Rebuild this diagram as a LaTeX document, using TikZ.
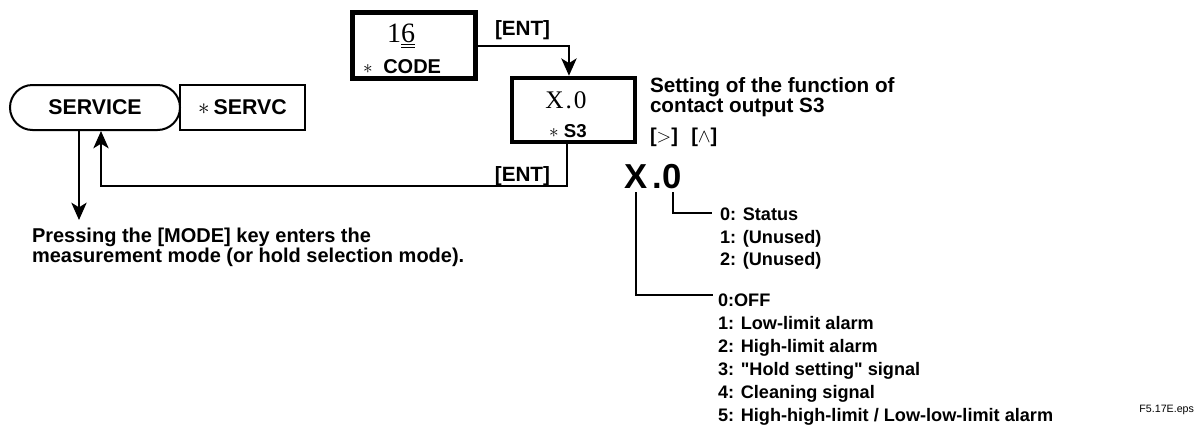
\documentclass[tikz,border=0pt]{standalone}
\usepackage{fontspec}
\setmainfont{Liberation Sans}[Ligatures=TeXOff]
\newfontfamily\lcdfont{Liberation Serif}
\usetikzlibrary{arrows.meta,shapes.misc}
\newcommand{\dispstar}{{\mdseries$\ast$}}
\begin{document}
\begin{tikzpicture}[x=0.75pt,y=-0.75pt,
  every node/.style={inner sep=0pt, outer sep=0pt},
  conn/.style={line width=1.5pt},
  arr/.style={conn,-{Stealth[length=13pt,width=11.5pt,inset=3.5pt]}},
  thinbox/.style={draw,line width=1.5pt},
  thickbox/.style={draw,line width=3.4pt},
  keylbl/.style={font=\bfseries\fontsize{15.5}{15.5}\selectfont},
  txt/.style={font=\bfseries\fontsize{15}{15}\selectfont, align=left},
  listtxt/.style={font=\bfseries\fontsize{13.6}{17.2}\selectfont, align=left},
  lcd/.style={font=\lcdfont\fontsize{19}{19}\selectfont},
  bigdigit/.style={font=\bfseries\fontsize{26}{26}\selectfont}
]
\useasboundingbox (0,0) rectangle (1204,429);

% mode boxes
\node[thinbox, rounded rectangle, minimum width=127.5pt, minimum height=33.75pt,
      font=\bfseries\fontsize{16}{16}\selectfont] (service) at (95,107.5) {SERVICE};
\node[thinbox, anchor=west, minimum width=93.75pt, minimum height=33.75pt,
      font=\bfseries\fontsize{16}{16}\selectfont] (servc) at (service.east) {\dispstar\hspace{3pt}SERVC};

% CODE display
\node[thickbox, minimum width=92.25pt, minimum height=49.5pt] (code) at (414,45.5) {};
\node[lcd, font=\lcdfont\fontsize{21}{21}\selectfont, anchor=base] (codeval) at (401,42) {1\underline{\underline{6}}};
\node[anchor=base west, font=\bfseries\fontsize{15}{15}\selectfont] (codename) at (363,73) {\dispstar\hspace{8pt}CODE};

% S3 display
\node[thickbox, minimum width=92.25pt, minimum height=48pt] (s3) at (573.5,110) {};
\node[lcd, anchor=base] (s3val) at (566,108) {X\kern1.5pt.\kern1.5pt0};
\node[anchor=base west, font=\bfseries\fontsize{14}{14}\selectfont] (s3name) at (549,137) {\dispstar\hspace{4pt}S3};

% connectors
\node[keylbl, anchor=base west] (entA) at (495,35) {[ENT]};
\draw[arr] (code.east) -| ([xshift=-3.4pt,yshift=1.7pt]s3.north);

\node[keylbl, anchor=base east] (entB) at (550,181) {[ENT]};
\draw[arr] ([xshift=-4.9pt]s3.south) -- ++(0,44) -| ([xshift=4.5pt,yshift=-0.75pt]service.south);

\coordinate (modeend) at (79,220);
\draw[arr] ([xshift=-12pt,yshift=-0.75pt]service.south) -- (modeend);

\node[txt, anchor=north west] (mode) at (32,228)
  {Pressing the [MODE] key enters the\\measurement mode (or hold selection mode).};

% setting description
\node[txt, font=\bfseries\fontsize{15.5}{15}\selectfont, anchor=north west] (setting) at (650,78) {Setting of the function of\\contact output S3};
\node[anchor=base west, font=\bfseries\fontsize{15}{15}\selectfont] (keys) at (650,142) {[$>$]\hspace{10pt}[$\wedge$]};

% big X.0
\node[bigdigit, anchor=base] (bigX) at (636,188) {X};
\node[bigdigit, anchor=base] (bigdot) at (657.5,188) {.};
\node[bigdigit, anchor=base] (big0) at (672.5,188) {0};

\node[listtxt, font=\bfseries\fontsize{13.6}{16.9}\selectfont, anchor=north west] (stat) at (720,208) {0: Status\\1: (Unused)\\2: (Unused)};
\node[listtxt, anchor=north west] (off) at (718,294)
  {0:OFF\\1: Low-limit alarm\\2: High-limit alarm\\3: "Hold setting" signal\\4: Cleaning signal\\5: High-high-limit / Low-low-limit alarm};

\draw[conn] ([yshift=-3pt]big0.south) |- ([xshift=-6pt,yshift=-3.75pt]stat.north west);
\draw[conn] ([yshift=-3pt]bigX.south) |- ([xshift=-3.75pt,yshift=-0.75pt]off.north west);

\node[anchor=base east, font=\fontsize{8}{8}\selectfont] (fig) at (1194,412) {F5.17E.eps};
\end{tikzpicture}
\end{document}
